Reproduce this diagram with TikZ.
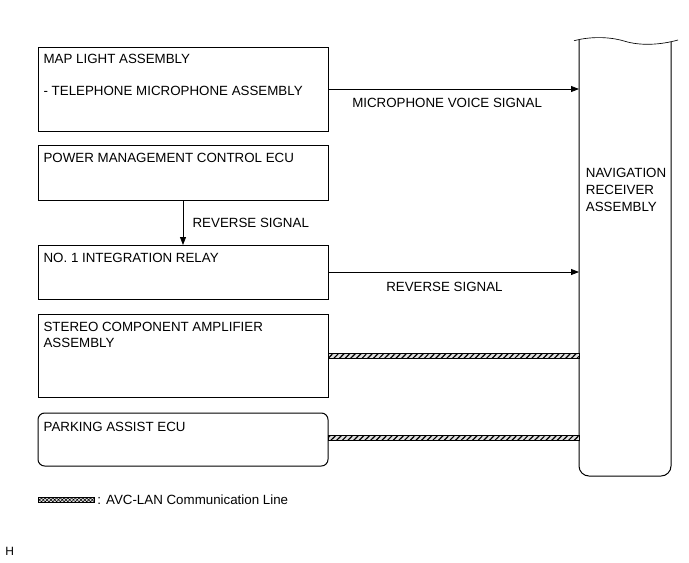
\documentclass[tikz,border=0pt]{standalone}
\usepackage{fontspec}
\setmainfont{Liberation Sans}
\usetikzlibrary{arrows.meta,positioning,calc,patterns.meta}
\tikzset{
  >={Triangle[length=6pt,width=4.5pt]},
  unit/.style={draw,line width=0.75pt,anchor=north west,minimum width=217.5pt,inner sep=0pt,outer sep=0pt},
  txt/.style={font=\fontsize{10}{12}\selectfont,align=left,inner sep=0pt,anchor=north west},
  sig/.style={->,line width=0.6pt},
  avc/.style={draw,line width=0.5pt,fill=gray!25,postaction={pattern={Lines[angle=45,distance=3pt,line width=0.9pt]}}},
  avckey/.style={draw,line width=0.4pt,fill=gray!25,postaction={pattern={Hatch[angle=45,distance=2pt,line width=0.4pt]}}}
}
\begin{document}
\begin{tikzpicture}[x=0.75pt,y=-0.75pt]
\useasboundingbox (0,0) rectangle (689,562);
\node[unit,minimum height=63pt] (map) at (38,47) {};
\node[unit,minimum height=41.25pt,below=10.5pt of map] (power) {};
\node[unit,minimum height=40.5pt,below=33.75pt of power] (relay) {};
\node[unit,minimum height=62.25pt,below=11.25pt of relay] (stereo) {};
\node[unit,rounded corners=5pt,minimum height=39.75pt,below=12pt of stereo] (parking) {};
\node[txt,below right=5.25pt and 4pt of map.north west] (maplbl) {MAP LIGHT ASSEMBLY\\[12pt]- TELEPHONE MICROPHONE ASSEMBLY};
\node[txt,below right=6pt and 4pt of power.north west] (powerlbl) {POWER MANAGEMENT CONTROL ECU};
\node[txt,below right=6pt and 4pt of relay.north west] (relaylbl) {NO. 1 INTEGRATION RELAY};
\node[txt,below right=6pt and 4pt of stereo.north west] (stereolbl) {STEREO COMPONENT AMPLIFIER\\ASSEMBLY};
\node[txt,below right=7pt and 4pt of parking.north west] (parkinglbl) {PARKING ASSIST ECU};
\node[anchor=north west,minimum width=69pt,minimum height=327pt,inner sep=0pt,outer sep=0pt] (nav) at (579,40) {};
\draw[line width=0.75pt,rounded corners=7.5pt] (nav.north west) -- (nav.south west) -- (nav.south east) -- ($(nav.north east)+(0,2)$);
\draw[line width=0.5pt] ($(nav.north west)+(-5,0.7)$) .. controls ($(nav.north west)+(9,-3)$) and ($(nav.north west)+(28,-4)$) .. ($(nav.north west)+(45,1)$) .. controls ($(nav.north west)+(61,6)$) and ($(nav.north west)+(81,5)$) .. ($(nav.north west)+(99,0)$);
\node[txt,font=\fontsize{10}{12.75}\selectfont,below right=96pt and 5pt of nav.north west] (navlbl) {NAVIGATION\\RECEIVER\\ASSEMBLY};
\draw[sig] (map.east) -- (map.east -| nav.west);
\draw[sig] (power.south) -- (relay.north);
\draw[sig] (relay.east) -- (relay.east -| nav.west);
\path[avc] ($(stereo.east)+(0,-2.5)$) rectangle ($(stereo.east -| nav.west)+(0,2.5)$);
\path[avc] ($(parking.east)+(0,-4)$) rectangle ($(parking.east -| nav.west)+(0,1)$);
\node[txt,below right=6.75pt and 18pt of map.east] (miclbl) {MICROPHONE VOICE SIGNAL};
\node[txt,below right=13.5pt and 7pt of power.south] (revlbl) {REVERSE SIGNAL};
\node[txt,below right=7.5pt and 43.5pt of relay.east] (rev2lbl) {REVERSE SIGNAL};
\node[avckey,anchor=west,minimum width=42pt,minimum height=3.75pt,inner sep=0pt] (key) at (38,500) {};
\node[txt,right=2pt of key] (keylbl) {: AVC-LAN Communication Line};
\node[txt,font=\fontsize{9}{10}\selectfont,anchor=west] (code) at (5,551) {H};
\end{tikzpicture}
\end{document}
